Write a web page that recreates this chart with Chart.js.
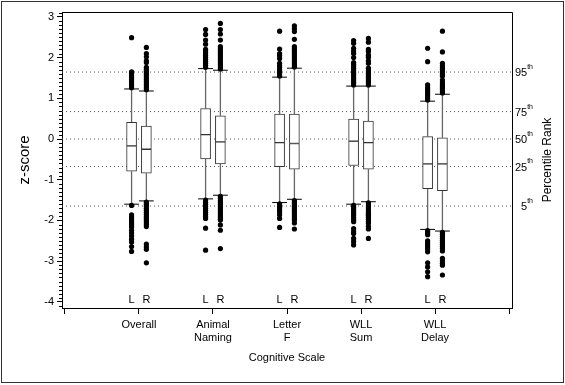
<!DOCTYPE html>
<html>
<head>
<meta charset="utf-8">
<script src="https://cdn.jsdelivr.net/npm/chart.js@4/dist/chart.umd.min.js"></script>
<style>
html,body{margin:0;padding:0;background:#fff;}
canvas{display:block;}
</style>
</head>
<body>
<canvas id="c" width="565" height="385"></canvas>
<script>
// ---- data ----
const categories = [['Overall'], ['Animal', 'Naming'], ['Letter', 'F'], ['WLL', 'Sum'], ['WLL', 'Delay']];
const sideLabels = ['L', 'R'];

const leftQ1     = [-0.79, -0.49, -0.68, -0.65, -1.22];
const leftMedian = [-0.17,  0.11, -0.09, -0.05, -0.61];
const leftQ3     = [ 0.41,  0.75,  0.61,  0.49,  0.06];
const leftLow    = [-1.60, -1.47, -1.56, -1.60, -2.22];
const leftHigh   = [ 1.23,  1.73,  1.52,  1.30,  0.93];

const rightQ1     = [-0.84, -0.61, -0.74, -0.74, -1.27];
const rightMedian = [-0.25, -0.07, -0.11, -0.09, -0.61];
const rightQ3     = [ 0.32,  0.57,  0.61,  0.44,  0.03];
const rightLow    = [-1.52, -1.38, -1.48, -1.54, -2.26];
const rightHigh   = [ 1.18,  1.69,  1.74,  1.30,  1.10];

const leftOutliers = [
  [1.26,1.31,1.36,1.41,1.46,1.51,1.56,1.61,1.65,2.49,-1.63,-1.86,-1.91,-1.96,-2.01,-2.06,-2.11,-2.16,-2.24,-2.31,-2.38,-2.46,-2.53,-2.64,-2.76],
  [1.76,1.81,1.86,1.91,1.96,2.01,2.06,2.11,2.16,2.20,2.33,2.43,2.57,2.69,-1.50,-1.55,-1.60,-1.65,-1.70,-1.75,-1.80,-1.85,-1.90,-1.95,-2.19,-2.73],
  [1.55,1.60,1.65,1.70,1.75,1.80,1.86,1.98,2.05,2.10,2.21,2.65,-1.59,-1.64,-1.69,-1.74,-1.79,-1.86,-1.95,-2.17],
  [1.33,1.38,1.43,1.48,1.53,1.58,1.63,1.68,1.73,1.78,1.83,1.88,2.00,2.10,2.16,2.23,2.35,2.42,-1.63,-1.68,-1.73,-1.78,-1.83,-1.88,-1.93,-1.98,-2.03,-2.20,-2.27,-2.32,-2.44,-2.52,-2.60],
  [0.96,1.01,1.06,1.11,1.16,1.21,1.26,1.33,1.90,2.23,-2.25,-2.30,-2.35,-2.50,-2.55,-2.60,-2.65,-2.70,-2.77,-3.04,-3.14,-3.26,-3.38]
];
const rightOutliers = [
  [1.21,1.26,1.31,1.36,1.41,1.46,1.51,1.56,1.61,1.66,1.71,1.76,1.88,1.92,2.02,2.10,2.25,-1.55,-1.60,-1.65,-1.70,-1.75,-1.80,-1.85,-1.90,-1.95,-2.00,-2.05,-2.10,-2.15,-2.58,-2.65,-2.71,-3.04],
  [1.72,1.77,1.82,1.87,1.92,1.97,2.02,2.07,2.12,2.17,2.22,2.27,2.43,2.58,2.69,2.84,-1.41,-1.46,-1.51,-1.56,-1.61,-1.66,-1.71,-1.76,-1.81,-1.86,-1.91,-1.96,-1.99,-2.11,-2.24,-2.69],
  [1.77,1.82,1.87,1.92,1.97,2.02,2.07,2.12,2.17,2.22,2.27,2.45,2.64,2.71,2.78,-1.51,-1.56,-1.61,-1.66,-1.71,-1.76,-1.81,-1.86,-1.91,-1.96,-1.99,-2.06,-2.21],
  [1.33,1.38,1.43,1.48,1.53,1.58,1.63,1.68,1.74,1.86,1.92,2.01,2.06,2.15,2.20,2.38,2.47,-1.57,-1.62,-1.67,-1.72,-1.77,-1.82,-1.87,-1.92,-1.97,-2.02,-2.07,-2.15,-2.21,-2.44],
  [1.13,1.18,1.23,1.28,1.33,1.38,1.45,1.55,1.60,1.65,1.70,1.75,1.80,1.86,2.14,2.65,-2.29,-2.34,-2.39,-2.44,-2.49,-2.54,-2.59,-2.64,-2.69,-2.75,-2.93,-2.99,-3.05,-3.10,-3.34]
];

const yTickValues = [-4, -3, -2, -1, 0, 1, 2, 3];
const percentileZ = [1.645, 0.674, 0, -0.674, -1.645];
const percentileLabels = ['95', '75', '50', '25', '5'];

// ---- layout constants ----
const X_MIN = -0.04, X_MAX = 6.04;
const Y_MIN = -4.15, Y_MAX = 3.12;
const SIDE_OFFSET = 0.1;
const CAP_HALF = 0.1;
const FONT = '"Liberation Sans", Arial, sans-serif';

// ---- build datasets ----
const boxes = [];
categories.forEach((c, i) => {
  const pos = i + 1;
  boxes.push({x: pos - SIDE_OFFSET, q1: leftQ1[i], med: leftMedian[i], q3: leftQ3[i], lo: leftLow[i], hi: leftHigh[i], out: leftOutliers[i]});
  boxes.push({x: pos + SIDE_OFFSET, q1: rightQ1[i], med: rightMedian[i], q3: rightQ3[i], lo: rightLow[i], hi: rightHigh[i], out: rightOutliers[i]});
});

const whiskerData = [];
const capData = [];
const outlierData = [];
boxes.forEach(b => {
  whiskerData.push({x: b.x, y: b.q3}, {x: b.x, y: b.hi}, {x: b.x, y: null});
  whiskerData.push({x: b.x, y: b.q1}, {x: b.x, y: b.lo}, {x: b.x, y: null});
  capData.push({x: b.x - CAP_HALF, y: b.hi}, {x: b.x + CAP_HALF, y: b.hi}, {x: b.x, y: null});
  capData.push({x: b.x - CAP_HALF, y: b.lo}, {x: b.x + CAP_HALF, y: b.lo}, {x: b.x, y: null});
  b.out.forEach(v => outlierData.push({x: b.x, y: v}));
});

const datasets = [];
datasets.push({type: 'scatter', data: outlierData, pointRadius: 2.6, pointBackgroundColor: '#000', pointBorderWidth: 0, order: 0});
datasets.push({type: 'bar', data: boxes.map(b => ({x: b.x, y: [b.med, b.q3]})), backgroundColor: '#fff', borderColor: '#333', borderWidth: 1, borderSkipped: false, barThickness: 10, grouped: false, order: 1});
datasets.push({type: 'bar', data: boxes.map(b => ({x: b.x, y: [b.q1, b.med]})), backgroundColor: '#fff', borderColor: '#333', borderWidth: 1, borderSkipped: false, barThickness: 10, grouped: false, order: 1});
datasets.push({type: 'line', data: capData, borderColor: '#000', borderWidth: 1, pointRadius: 0, spanGaps: false, order: 2});
datasets.push({type: 'line', data: whiskerData, borderColor: '#666', borderWidth: 1.3, pointRadius: 0, spanGaps: false, order: 3});
percentileZ.forEach(z => {
  datasets.push({type: 'line', data: [{x: X_MIN, y: z}, {x: X_MAX, y: z}], borderColor: '#555', borderWidth: 1, borderDash: [1, 3], pointRadius: 0, order: 4});
});

// ---- decoration plugin ----
const deco = {
  id: 'deco',
  beforeDraw(chart) {
    const ctx = chart.ctx;
    ctx.save();
    ctx.fillStyle = '#fff';
    ctx.fillRect(0, 0, chart.width, chart.height);
    ctx.strokeStyle = '#333';
    ctx.lineWidth = 1;
    ctx.strokeRect(1.5, 1.5, 562, 381);
    ctx.restore();
  },
  afterDraw(chart) {
    const ctx = chart.ctx;
    const a = chart.chartArea;
    const xs = chart.scales.x, ys = chart.scales.y;
    ctx.save();
    ctx.strokeStyle = '#000';
    ctx.lineWidth = 1;
    ctx.beginPath();
    ctx.moveTo(a.left, a.top + 0.5);
    ctx.lineTo(a.right + 0.5, a.top + 0.5);
    ctx.lineTo(a.right + 0.5, a.bottom);
    ctx.stroke();
    // minor ticks
    ctx.beginPath();
    for (let k = -41; k <= 31; k++) {
      if (k % 10 === 0) continue;
      const y = Math.round(ys.getPixelForValue(k / 10)) + 0.5;
      if (y < a.top || y > a.bottom) continue;
      ctx.moveTo(a.left - 3, y);
      ctx.lineTo(a.left, y);
    }
    ctx.stroke();
    // L / R labels
    ctx.fillStyle = '#000';
    ctx.font = '11px ' + FONT;
    ctx.textAlign = 'center';
    ctx.textBaseline = 'middle';
    const yLab = ys.getPixelForValue(-3.95);
    categories.forEach((c, i) => {
      ctx.fillText(sideLabels[0], xs.getPixelForValue(i + 1 - SIDE_OFFSET), yLab);
      ctx.fillText(sideLabels[1], xs.getPixelForValue(i + 1 + SIDE_OFFSET), yLab);
    });
    // percentile labels
    const endX = a.right + 21;
    percentileZ.forEach((z, i) => {
      const y = ys.getPixelForValue(z);
      ctx.font = '7px ' + FONT;
      const thW = ctx.measureText('th').width;
      ctx.textAlign = 'right';
      ctx.textBaseline = 'middle';
      ctx.fillText('th', endX, y - 5);
      ctx.font = '11px ' + FONT;
      ctx.fillText(percentileLabels[i], endX - thW, y + 1);
    });
    // right title
    ctx.font = '12px ' + FONT;
    ctx.translate(a.right + 36, (a.top + a.bottom) / 2);
    ctx.rotate(-Math.PI / 2);
    ctx.textAlign = 'center';
    ctx.textBaseline = 'middle';
    ctx.fillText('Percentile Rank', 0, 0);
    ctx.restore();
  }
};

new Chart(document.getElementById('c'), {
  type: 'scatter',
  data: {datasets},
  options: {
    responsive: false,
    animation: false,
    devicePixelRatio: 1,
    layout: {padding: {top: 12, right: 53, left: 0, bottom: 0}},
    plugins: {legend: {display: false}, tooltip: {enabled: false}},
    scales: {
      x: {
        type: 'linear', min: X_MIN, max: X_MAX, offset: false,
        afterBuildTicks: s => { s.ticks = [0, 1, 2, 3, 4, 5, 6].map(v => ({value: v})); },
        afterFit: s => { s.height = 77; },
        ticks: {
          callback: v => (v >= 1 && v <= 5 ? categories[v - 1] : ''),
          font: {family: FONT, size: 11}, color: '#000', padding: 4, maxRotation: 0, autoSkip: false
        },
        grid: {drawOnChartArea: false, tickLength: 6, color: '#000', offset: false},
        border: {display: true, color: '#000'},
        title: {display: true, text: 'Cognitive Scale', font: {family: FONT, size: 11}, color: '#000', padding: {top: 4, bottom: 20}}
      },
      y: {
        type: 'linear', min: Y_MIN, max: Y_MAX,
        afterBuildTicks: s => { s.ticks = yTickValues.map(v => ({value: v})); },
        afterFit: s => { s.width = 62; },
        ticks: {font: {family: FONT, size: 11}, color: '#000', padding: 3},
        grid: {drawOnChartArea: false, tickLength: 5, color: '#000'},
        border: {display: true, color: '#000'},
        title: {display: true, text: 'z-score', font: {family: FONT, size: 15}, color: '#000', padding: {top: 16, bottom: 4}}
      }
    }
  },
  plugins: [deco]
});
</script>
</body>
</html>
